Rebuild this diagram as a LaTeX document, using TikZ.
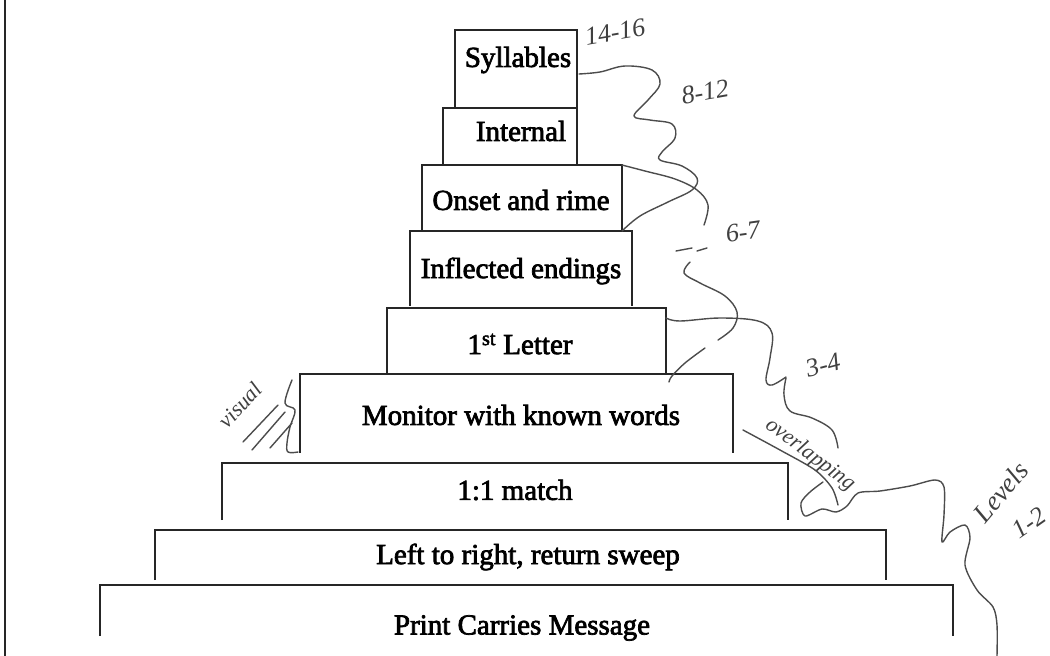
\documentclass[tikz,border=0pt]{standalone}
\usepackage{fontspec}
\setmainfont{Liberation Serif}
\newfontfamily\tierfont[FakeBold=2.5]{Liberation Serif}

\tikzset{
    tier/.style={line width=1.8pt, black!85},
    tiertext/.style={font=\tierfont\fontsize{29}{34}\selectfont, inner sep=0pt},
    ink/.style={line width=1.4pt, black!70, line cap=round, line join=round},
    note/.style={font=\fontsize{26}{28}\selectfont\itshape, black!75, inner sep=0pt},
}

\begin{document}
\begin{tikzpicture}[x=1pt,y=-1pt]
    \useasboundingbox (0,0) rectangle (1050,656);
    % Рамка слева
    \draw[line width=1.5pt, black!85] (5,0) -- (5,656);

    % Ступени: имя/лево/право/верх/низ
    \foreach \n/\l/\r/\t/\b in {syl/455/577/30/108, int/443/577/108/165,
        ons/422/622/165/231, inf/410/632/231/306, fst/387/666/308/374,
        mon/300/733/374/453, one/222/788/463/520, ltr/155/886/530/580,
        pcm/100/953/585/636}
        \draw[tier] (\l,\b) -- (\l,\t) -- (\r,\t) coordinate (\n-ne) -- (\r,\b) coordinate (\n-se);

    % Подписи ступеней
    \node[tiertext] (syl) at (518,60) {Syllables};
    \node[tiertext] (int) at (521,131) {Internal};
    \node[tiertext] (ons) at (521,200) {Onset and rime};
    \node[tiertext] (inf) at (521,271) {Inflected endings};
    \node[tiertext] (fst) at (520,344) {1\textsuperscript{st} Letter};
    \node[tiertext] (mon) at (521,415) {Monitor with known words};
    \node[tiertext] (one) at (515,490) {1:1 match};
    \node[tiertext] (ltr) at (528,557) {Left to right, return sweep};
    \node[tiertext] (pcm) at (522,628) {Print Carries Message};

    % Пометки от руки
    \node[note, rotate=10] (n1416) at (615,32) {14-16};
    \node[note, rotate=10] (n812) at (705,92) {8-12};
    \node[note, rotate=8] (n67) at (743,232) {6-7};
    \node[note, rotate=15] (n34) at (823,365) {3-4};
    \node[note, font=\fontsize{22}{24}\selectfont\itshape, rotate=-37] (over) at (810,455) {overlapping};
    \node[note, font=\fontsize{27}{29}\selectfont\itshape, rotate=50] (lev) at (1001,492) {Levels};
    \node[note, rotate=35] (lev12) at (1029,523) {1-2};
    \node[note, font=\fontsize{22}{24}\selectfont\itshape, rotate=47] (vis) at (240,405) {visual};

    % Линии от руки
    \draw[ink] plot[smooth, tension=0.6] coordinates {(579,74) (600,72) (625,66) (652,70)
        (660,84) (648,100) (634,116) (650,120) (672,124) (675,138) (662,152) (660,160)
        (682,166) (697,178) (692,190) (668,202) (640,216) (ons-se)};
    \draw[ink] plot[smooth, tension=0.6] coordinates {(ons-ne) (645,171) (675,179)
        (697,190) (708,205) (704,225)};
    \draw[ink] (676,251) -- (692,248);
    \draw[ink] (697,251) -- (707,248);
    \draw[ink] plot[smooth, tension=0.6] coordinates {(690,262) (684,273) (700,283)
        (725,296) (737,312) (733,328) (718,340)};
    \draw[ink] plot[smooth, tension=0.6] coordinates {(705,348) (685,363) (672,376) (669,382)};
    \draw[ink] plot[smooth, tension=0.6] coordinates {(666,318) (680,321) (720,318)
        (758,321) (772,333) (770,358) (766,380) (772,385) (786,377)};
    \draw[ink] plot[smooth, tension=0.6] coordinates {(786,378) (784,395) (790,411)
        (812,418) (832,430) (838,448)};
    \draw[ink] plot[smooth, tension=0.5] coordinates {(743,430) (780,450) (815,470)
        (832,488) (838,505)};
    \draw[ink] plot[smooth, tension=0.5] coordinates {(823,482) (810,492) (801,503)
        (805,516) (822,509) (836,512) (847,506) (858,493) (880,491) (910,486)
        (935,480) (944,487) (944,515) (942,542) (950,532) (965,525) (970,538)
        (965,565) (977,590) (993,607) (997,625) (997,656)};
    % Штриховка у Monitor
    \draw[ink] (243,442) -- (278,405);
    \draw[ink] (252,450) -- (285,412);
    \draw[ink] (270,448) -- (292,423);
    \draw[ink] plot[smooth, tension=0.6] coordinates {(292,380) (285,403) (295,410)
        (290,427) (287,443) (288,452) (298,452)};
\end{tikzpicture}
\end{document}
